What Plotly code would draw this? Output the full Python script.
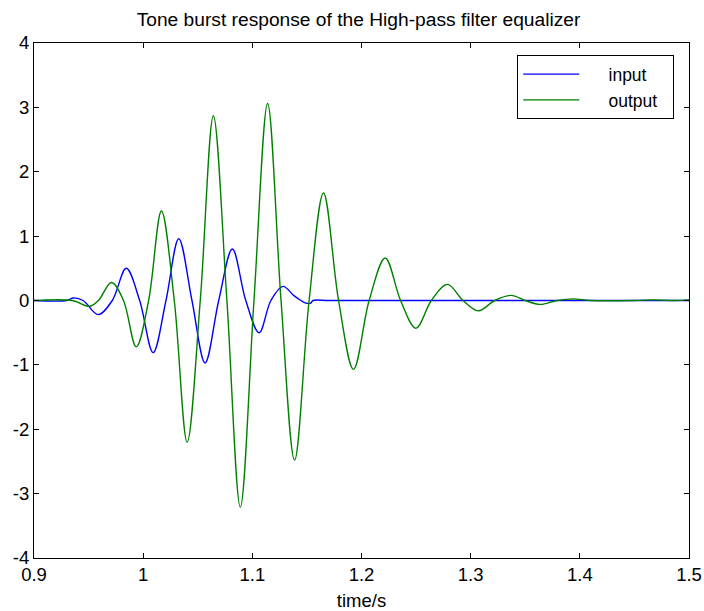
import plotly.graph_objects as go

# Values (extrema and zero crossings)
in_t = [0.900, 0.930, 0.936, 0.945, 0.9588, 0.9717, 0.9845, 0.9968, 1.0091, 1.0209,
        1.0326, 1.0447, 1.0567, 1.0692, 1.0817, 1.0940, 1.1062, 1.1170, 1.1280,
        1.1378, 1.1445, 1.1490, 1.1535, 1.1555, 1.1700, 1.2000, 1.2500, 1.3000,
        1.4000, 1.5000]
in_v = [0.0, 0.0, 0.04, 0.0, -0.22, 0.0, 0.50, 0.0, -0.81, 0.0,
        0.96, 0.0, -0.97, 0.0, 0.80, 0.0, -0.50, 0.0, 0.22,
        0.08, 0.0, -0.04, -0.04, 0.0, 0.0, 0.0, 0.0, 0.0,
        0.0, 0.0]

out_t = [0.900, 0.935, 0.951, 0.959, 0.971, 0.982, 0.9936, 1.005, 1.0167, 1.0285,
         1.0403, 1.0523, 1.0643, 1.0767, 1.0890, 1.1015, 1.1140, 1.1263, 1.1387,
         1.1520, 1.1652, 1.1790, 1.1927, 1.2070, 1.2217, 1.2358, 1.2498, 1.2640,
         1.2787, 1.2930, 1.3070, 1.3220, 1.3370, 1.3500, 1.3635, 1.3790, 1.3940,
         1.4100, 1.4500, 1.4680, 1.4870, 1.5000]
out_v = [0.0, 0.0, -0.09, 0.0, 0.28, 0.0, -0.72, 0.0, 1.39, 0.0,
         -2.20, 0.0, 2.87, 0.0, -3.21, 0.0, 3.06, 0.0, -2.48,
         0.0, 1.67, 0.0, -1.07, 0.0, 0.66, 0.0, -0.43, 0.0,
         0.25, 0.0, -0.16, 0.0, 0.08, 0.0, -0.06, 0.0, 0.025,
         0.0, 0.0, 0.01, 0.0, 0.01]

x_ticks = [0.9, 1.0, 1.1, 1.2, 1.3, 1.4, 1.5]
x_labels = ["0.9", "1", "1.1", "1.2", "1.3", "1.4", "1.5"]
y_ticks = [-4, -3, -2, -1, 0, 1, 2, 3, 4]
y_labels = ["-4", "-3", "-2", "-1", "0", "1", "2", "3", "4"]

font = "Liberation Sans, Arial, sans-serif"
FS = 18.5
pad = "\u00a0" * 5
tail = "\u00a0" * 2

fig = go.Figure()
fig.add_trace(go.Scatter(x=in_t, y=in_v, mode="lines", name=pad + "input" + tail,
                         line=dict(color="#0000ff", width=1.4, shape="spline", smoothing=1.0)))
fig.add_trace(go.Scatter(x=out_t, y=out_v, mode="lines", name=pad + "output" + tail,
                         line=dict(color="#008000", width=1.4, shape="spline", smoothing=1.0)))

axis_common = dict(showline=True, linecolor="black", linewidth=1.2, mirror="ticks",
                   ticks="inside", ticklen=5, tickcolor="black", showgrid=False,
                   zeroline=False, automargin=False,
                   tickfont=dict(family=font, size=FS, color="black"))

fig.update_layout(
    width=704, height=611,
    margin=dict(l=34, r=15, t=43, b=53),
    paper_bgcolor="white", plot_bgcolor="white",
    title=dict(text="Tone burst response of the High-pass filter equalizer",
               x=358.5 / 704, xref="container", xanchor="center",
               yref="container", y=1 - 19.5 / 611, yanchor="middle",
               font=dict(family=font, size=19.2, color="black")),
    xaxis=dict(range=[0.9, 1.5], tickvals=x_ticks, ticktext=x_labels,
               title=dict(text="time/s", font=dict(family=font, size=FS, color="black"), standoff=10),
               **axis_common),
    yaxis=dict(range=[-4, 4], tickvals=y_ticks, ticktext=y_labels, **axis_common),
    legend=dict(x=(674 - 34) / 655, y=1 - (55 - 43) / 514.7, xanchor="right", yanchor="top",
                bordercolor="black", borderwidth=1.2, bgcolor="white",
                font=dict(family=font, size=17.5, color="black"),
                itemwidth=56, tracegroupgap=0),
    showlegend=True,
)

fig.write_html("out.html")
